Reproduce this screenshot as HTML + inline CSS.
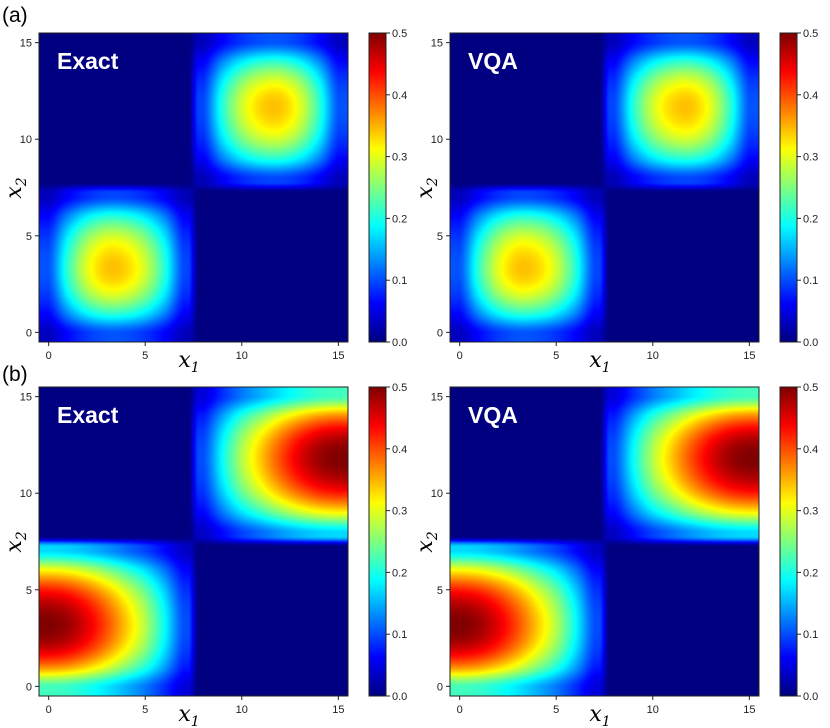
<!DOCTYPE html>
<html><head><meta charset="utf-8">
<style>
body{margin:0;background:#fff;width:830px;height:728px;overflow:hidden;position:relative;font-family:"Liberation Sans",sans-serif}
canvas{position:absolute}
svg{position:absolute;left:0;top:0}
</style></head>
<body>
<svg id="ov" width="830" height="728"></svg>
<script>
// ---- data ----
// grid is 16x16 (x1, x2 = 0..15); non-zero blocks are x,y in 0..7 (lower-left) and 8..15 (upper-right)
// row (a): symmetric bump, peak ~0.345 at (3.3,3.3) and (11.7,11.7)
const profileA = [0.30, 0.62, 0.87, 0.99, 0.97, 0.84, 0.60, 0.28];
const peakA = 0.345;
// row (b): peak at x=0 (lower block) / x=15 (upper block), y peak ~3.3 / 11.7
const xProfileB = [1.00, 0.97, 0.90, 0.80, 0.68, 0.55, 0.38, 0.20];
const yProfileB = [0.44, 0.74, 0.93, 1.00, 0.97, 0.85, 0.63, 0.34];
const peakB = 0.50;
const tickValsAxis = [0, 5, 10, 15];
const cbarTicks = [0.0, 0.1, 0.2, 0.3, 0.4, 0.5];
const panelTitles = ["Exact", "VQA"];
const rowLabels = ["(a)", "(b)"];

function buildGrid(xLow, yLow, peak) {
  const g = [];
  for (let j = 0; j < 16; j++) { g.push(new Array(16).fill(0)); }
  for (let j = 0; j < 8; j++) for (let i = 0; i < 8; i++) {
    g[j][i] = peak * xLow[i] * yLow[j];
    g[15 - j][15 - i] = peak * xLow[i] * yLow[j];
  }
  return g;
}
const gridA = buildGrid(profileA, profileA, peakA);
const gridB = buildGrid(xProfileB, yProfileB, peakB);

function jet(t) {
  t = Math.max(0, Math.min(1, t));
  const f = (x) => Math.max(0, Math.min(1, x));
  const r = f(1.5 - Math.abs(4 * t - 3)), g = f(1.5 - Math.abs(4 * t - 2)), b = f(1.5 - Math.abs(4 * t - 1));
  return [r * 255, g * 255, b * 255];
}
function cr(p0, p1, p2, p3, t) {
  return 0.5 * ((2 * p1) + (-p0 + p2) * t + (2 * p0 - 5 * p1 + 4 * p2 - p3) * t * t + (-p0 + 3 * p1 - 3 * p2 + p3) * t * t * t);
}
function sampleBlock(grid, u, v, lo) {
  const hi = lo + 7;
  u = Math.max(lo, Math.min(hi, u)); v = Math.max(lo, Math.min(hi, v));
  const i1 = Math.min(hi - 1, Math.floor(u)), j1 = Math.min(hi - 1, Math.floor(v));
  const fu = u - i1, fv = v - j1;
  const cl = (k) => Math.max(lo, Math.min(hi, k));
  const rows = [];
  for (let dj = -1; dj <= 2; dj++) {
    const r = grid[cl(j1 + dj)];
    rows.push(cr(r[cl(i1 - 1)], r[cl(i1)], r[cl(i1 + 1)], r[cl(i1 + 2)], fu));
  }
  return Math.max(0, cr(rows[0], rows[1], rows[2], rows[3], fv));
}
function ss(e0, e1, x) { const t = Math.max(0, Math.min(1, (x - e0) / (e1 - e0))); return t * t * (3 - 2 * t); }
const NS = "http://www.w3.org/2000/svg";
const ov = document.getElementById('ov');
function el(tag, attrs, text) {
  const e = document.createElementNS(NS, tag);
  for (const k in attrs) e.setAttribute(k, attrs[k]);
  if (text !== undefined) e.textContent = text;
  ov.appendChild(e);
  return e;
}
const VMAX = 0.5;
function panel(px, py, grid, title, idx) {
  const W = 309, H = 309;
  const xs = (v) => px + (v + 0.5) / 16 * W;
  const ys = (v) => py + H - (v + 0.5) / 16 * H;
  const c = document.createElement('canvas');
  c.width = W; c.height = H;
  c.style.left = px + 'px'; c.style.top = py + 'px';
  
  
  document.body.insertBefore(c, ov);
  const ctx = c.getContext('2d');
  const img = ctx.createImageData(W, H);
  const hw = 0.28;
  for (let y = 0; y < H; y++) for (let x = 0; x < W; x++) {
    const u = -0.5 + (x + 0.5) / W * 16, v = 15.5 - (y + 0.5) / H * 16;
    let val = 0;
    if (u < 7.5 + hw && v < 7.5 + hw) {
      val += sampleBlock(grid, u, v, 0) * (1 - ss(7.5 - hw, 7.5 + hw, u)) * (1 - ss(7.5 - hw, 7.5 + hw, v));
    }
    if (u > 7.5 - hw && v > 7.5 - hw) {
      val += sampleBlock(grid, u, v, 8) * ss(7.5 - hw, 7.5 + hw, u) * ss(7.5 - hw, 7.5 + hw, v);
    }
    const col = jet(val / VMAX);
    const k = (y * W + x) * 4;
    img.data[k] = col[0]; img.data[k + 1] = col[1]; img.data[k + 2] = col[2]; img.data[k + 3] = 255;
  }
  ctx.putImageData(img, 0, 0);
  let r = el('rect', {x: px, y: py, width: W, height: H, fill: 'none', stroke: '#222', 'stroke-width': 1});
   
  tickValsAxis.forEach(t => {
    el('line', {x1: xs(t), x2: xs(t), y1: py + H, y2: py + H + 4, stroke: '#222'});
    let tx = el('text', {x: xs(t), y: py + H + 17, 'font-size': 11, fill: '#222', 'text-anchor': 'middle'}, t);
     
    el('line', {x1: px - 4, x2: px, y1: ys(t), y2: ys(t), stroke: '#222'});
    let ty = el('text', {x: px - 7, y: ys(t) + 4, 'font-size': 11, fill: '#222', 'text-anchor': 'end'}, t);
     
  });
  let xl = el('text', {x: px + 150, y: py + H + 25, 'font-size': 22, 'font-style': 'italic', 'font-family': 'DejaVu Serif, serif', 'text-anchor': 'middle'});
  xl.innerHTML = 'x<tspan font-size="14" dy="5">1</tspan>';
   
  let yl = el('text', {x: 0, y: 0, 'font-size': 22, 'font-style': 'italic', 'font-family': 'DejaVu Serif, serif', 'text-anchor': 'middle', transform: `translate(${px - 18},${py + 155}) rotate(-90)`});
  yl.innerHTML = 'x<tspan font-size="14" dy="5">2</tspan>';
   
  let tt = el('text', {x: px + 18, y: py + 36, 'font-size': 23, 'font-weight': 'bold', fill: '#fff'}, title);
   
  const cx = px + 330, cw = 17;
  const cb = document.createElement('canvas');
  cb.width = cw; cb.height = H;
  cb.style.left = cx + 'px'; cb.style.top = py + 'px';
  
  
  document.body.insertBefore(cb, ov);
  const cc = cb.getContext('2d');
  for (let y = 0; y < H; y++) {
    const col = jet(1 - (y + 0.5) / H);
    cc.fillStyle = `rgb(${col[0] | 0},${col[1] | 0},${col[2] | 0})`;
    cc.fillRect(0, y, cw, 1);
  }
  el('rect', {x: cx, y: py, width: cw, height: H, fill: 'none', stroke: '#222'});
  cbarTicks.forEach(t => {
    const yy = py + H - t / VMAX * H;
    el('line', {x1: cx + cw, x2: cx + cw + 4, y1: yy, y2: yy, stroke: '#222'});
    let lt = el('text', {x: cx + cw + 6, y: yy + 4, 'font-size': 11, fill: '#222'}, t.toFixed(1));
     
  });
}
panel(39, 33, gridA, panelTitles[0], 'a-exact');
panel(450, 33, gridA, panelTitles[1], 'a-vqa');
panel(39, 387, gridB, panelTitles[0], 'b-exact');
panel(450, 387, gridB, panelTitles[1], 'b-vqa');
let la = el('text', {x: 2, y: 22, 'font-size': 21}, rowLabels[0]);
 
let lb = el('text', {x: 2, y: 381, 'font-size': 21}, rowLabels[1]);
 
</script>
</body></html>
